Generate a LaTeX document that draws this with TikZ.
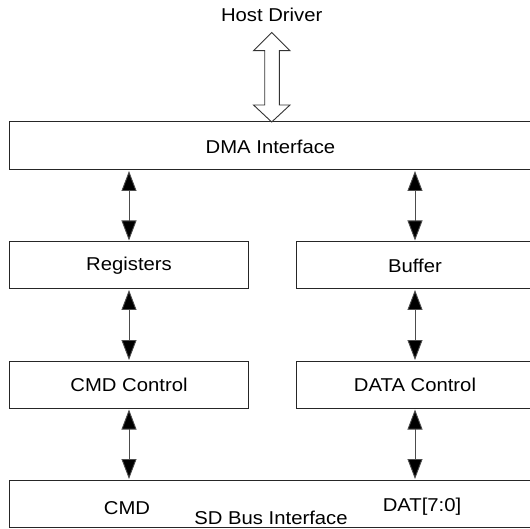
\documentclass[tikz,border=0pt]{standalone}
\usepackage{fontspec}
\setmainfont{Liberation Sans}[FakeStretch=1.09]
\usetikzlibrary{arrows.meta}
\tikzset{
  blk/.style={draw=black!85, line width=1pt, fill=none},
  lbl/.style={inner sep=0pt, font=\fontsize{18.6}{20}\selectfont},
  link/.style={draw=black!70, line width=0.9pt, {Triangle[length=20pt,width=15pt,fill=black]}-{Triangle[length=20pt,width=15pt,fill=black]}, shorten <=1pt, shorten >=1pt},
  hollow/.style={draw=black!80, line width=0.9pt, fill=white}
}
\begin{document}
\begin{tikzpicture}[x=1pt,y=-1pt]
\useasboundingbox (0,0) rectangle (530,529);
% boxes
\draw[blk] (9.5,122) rectangle (534,170);
\draw[blk] (9.5,241.5) rectangle (248,289);
\draw[blk] (296,241.5) rectangle (534,289);
\draw[blk] (9.5,361) rectangle (248,408.5);
\draw[blk] (296,361) rectangle (534,408.5);
\draw[blk] (9.5,480) rectangle (534,527.5);
% anchors for connectors
\coordinate (dmaL) at (129,170);
\coordinate (dmaR) at (415,170);
\coordinate (regT) at (129,241.5);
\coordinate (regB) at (129,289);
\coordinate (bufT) at (415,241.5);
\coordinate (bufB) at (415,289);
\coordinate (cmdT) at (129,361);
\coordinate (cmdB) at (129,408.5);
\coordinate (datT) at (415,361);
\coordinate (datB) at (415,408.5);
\coordinate (sdL) at (129,480);
\coordinate (sdR) at (415,480);
% labels
\node[lbl] (host) at (271.7,15) {Host Driver};
\node[lbl] (dma) at (270.5,146.5) {DMA Interface};
\node[lbl] (reg) at (129,265.5) {Registers};
\node[lbl] (buf) at (415,265.5) {Buffer};
\node[lbl] (cmdc) at (129,385) {CMD Control};
\node[lbl] (datc) at (415,385) {DATA Control};
\node[lbl] (cmd) at (127,508) {CMD};
\node[lbl] (dat) at (422,507) {DAT[7:0]};
\node[lbl] (sd) at (271,517.5) {SD Bus Interface};
% host double arrow
\draw[hollow] (271.7,32.5) -- (290,50.7) -- (279.3,50.7) -- (279.3,105) -- (290,105)
  -- (271.7,122) -- (253.5,105) -- (264.7,105) -- (264.7,50.7) -- (253.5,50.7) -- cycle;
% connectors
\draw[link] (dmaL) -- (regT);
\draw[link] (dmaR) -- (bufT);
\draw[link] (regB) -- (cmdT);
\draw[link] (bufB) -- (datT);
\draw[link] (cmdB) -- (sdL);
\draw[link] (datB) -- (sdR);
\end{tikzpicture}
\end{document}
